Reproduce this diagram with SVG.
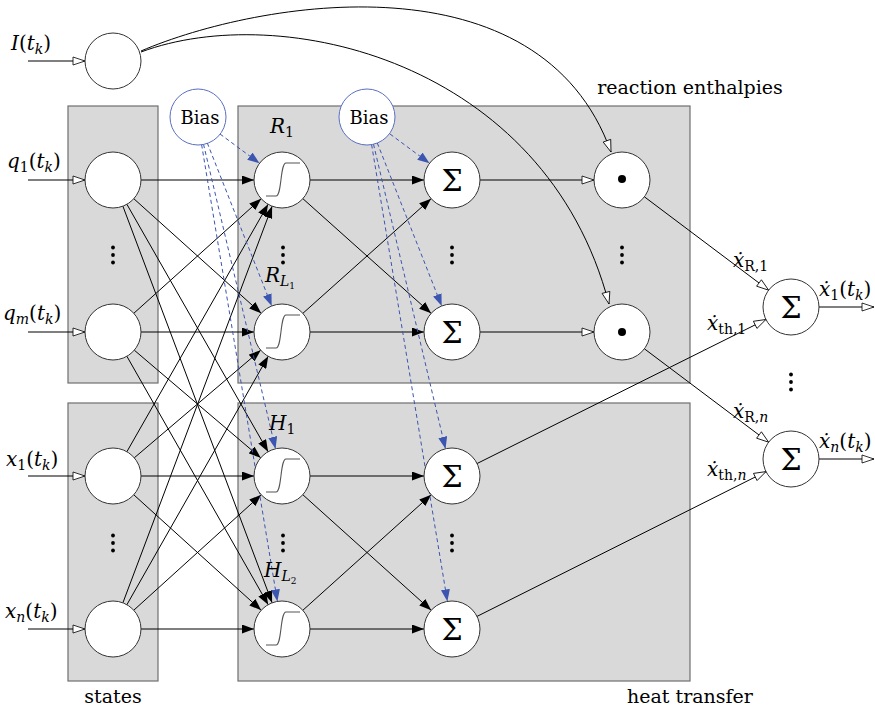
<svg xmlns="http://www.w3.org/2000/svg" width="875" height="711" viewBox="0 0 875 711">
<style>
text{font-family:"DejaVu Serif","Liberation Serif",serif;font-size:19px;fill:#000}
.m{font-size:20px}
.it{font-style:italic}
.sub{font-size:14px}
.ssub{font-size:9px}
.sum{font-size:30px;font-family:"DejaVu Serif",serif}
.bt{font-size:18px}
.box{fill:#d9d9d9;stroke:#6e6e6e;stroke-width:1.2}
.node{fill:#fff;stroke:#333;stroke-width:1}
.bias{fill:#fff;stroke:#5a6fc4;stroke-width:1}
.e{stroke:#000;stroke-width:1;fill:none}
.ef{marker-end:url(#af)}
.eo{marker-end:url(#ao)}
.eb{stroke:#3b55b0;stroke-width:1;fill:none;stroke-dasharray:4 3;marker-end:url(#ab)}
.sig{fill:none;stroke:#555;stroke-width:1.1}
.dots circle{fill:#000}
</style>
<defs>
<marker id="af" viewBox="0 0 12 9" refX="12" refY="4.5" markerWidth="12" markerHeight="9" markerUnits="userSpaceOnUse" orient="auto"><path d="M0,0 L12,4.5 L0,9 z" fill="#000"/></marker>
<marker id="ab" viewBox="0 0 12 9" refX="12" refY="4.5" markerWidth="12" markerHeight="9" markerUnits="userSpaceOnUse" orient="auto"><path d="M0,0 L12,4.5 L0,9 z" fill="#3b55b0"/></marker>
<marker id="ao" viewBox="-1 -1 14 10" refX="12" refY="4" markerWidth="14" markerHeight="10" markerUnits="userSpaceOnUse" orient="auto"><path d="M0,0 L12,4 L0,8 z" fill="#fff" stroke="#000" stroke-width="0.8"/></marker>
<path id="sigmoid" d="M-16,16 H-6 C0,16 -2,-17 4,-17 H18"/>
<g id="vdots"><circle cx="0" cy="-7.5" r="1.9"/><circle cx="0" cy="0" r="1.9"/><circle cx="0" cy="7.5" r="1.9"/></g>
</defs>

<g id="boxes">
<rect class="box" x="68" y="106" width="90" height="277"/>
<rect class="box" x="68" y="403" width="90" height="278"/>
<rect class="box" x="238" y="106" width="452" height="277"/>
<rect class="box" x="238" y="403" width="452" height="278"/>
</g>

<g id="connectors">
<line class="e eo" x1="28" y1="61" x2="85" y2="61"/>
<line class="e eo" x1="28" y1="180" x2="85" y2="180"/>
<line class="e eo" x1="28" y1="332" x2="85" y2="332"/>
<line class="e eo" x1="28" y1="476" x2="85" y2="476"/>
<line class="e eo" x1="28" y1="629" x2="85" y2="629"/>
<line class="e ef" x1="141" y1="180" x2="254" y2="180"/>
<line class="e ef" x1="133.8" y1="198.7" x2="261.2" y2="313.3"/>
<line class="e ef" x1="126.9" y1="204.3" x2="268.1" y2="451.7"/>
<line class="e ef" x1="122.9" y1="206.2" x2="272.1" y2="602.8"/>
<line class="e ef" x1="133.8" y1="313.3" x2="261.2" y2="198.7"/>
<line class="e ef" x1="141" y1="332" x2="254" y2="332"/>
<line class="e ef" x1="134.3" y1="350.2" x2="260.7" y2="457.8"/>
<line class="e ef" x1="126.9" y1="356.3" x2="268.2" y2="604.7"/>
<line class="e ef" x1="126.9" y1="451.7" x2="268.1" y2="204.3"/>
<line class="e ef" x1="134.3" y1="457.8" x2="260.7" y2="350.2"/>
<line class="e ef" x1="141" y1="476" x2="254" y2="476"/>
<line class="e ef" x1="133.8" y1="494.8" x2="261.2" y2="610.2"/>
<line class="e ef" x1="122.9" y1="602.8" x2="272.1" y2="206.2"/>
<line class="e ef" x1="126.9" y1="604.7" x2="268.2" y2="356.3"/>
<line class="e ef" x1="133.8" y1="610.2" x2="261.2" y2="494.8"/>
<line class="e ef" x1="141" y1="629" x2="254" y2="629"/>
<line class="e ef" x1="310" y1="180" x2="424" y2="180"/>
<line class="e ef" x1="302.9" y1="198.7" x2="431.1" y2="313.3"/>
<line class="e ef" x1="302.9" y1="313.3" x2="431.1" y2="198.7"/>
<line class="e ef" x1="310" y1="332" x2="424" y2="332"/>
<line class="e ef" x1="310" y1="476" x2="424" y2="476"/>
<line class="e ef" x1="302.8" y1="494.7" x2="431.2" y2="610.3"/>
<line class="e ef" x1="302.8" y1="610.3" x2="431.2" y2="494.7"/>
<line class="e ef" x1="310" y1="629" x2="424" y2="629"/>
<line class="e eo" x1="480" y1="180" x2="594" y2="180"/>
<line class="e eo" x1="480" y1="332" x2="594" y2="332"/>
<path class="e eo" d="M141,51 C260,0 540,-46 611,152"/>
<path class="e eo" d="M141,52 C280,0 545,60 609,304"/>
<line class="e eo" x1="644.4" y1="196.8" x2="768.6" y2="290.2"/>
<line class="e eo" x1="644.4" y1="348.8" x2="768.6" y2="442.2"/>
<line class="e eo" x1="477.1" y1="463.5" x2="765.9" y2="319.5"/>
<line class="e eo" x1="477" y1="616.4" x2="766" y2="471.6"/>
<line class="e eo" x1="819" y1="307" x2="874" y2="307"/>
<line class="e eo" x1="819" y1="459" x2="874" y2="459"/>
<line class="eb" x1="220" y1="134" x2="259.5" y2="163.3"/>
<line class="eb" x1="207.3" y1="143" x2="271.7" y2="306"/>
<line class="eb" x1="203.5" y1="144.2" x2="275.5" y2="448.8"/>
<line class="eb" x1="201.6" y1="144.6" x2="277.4" y2="601.4"/>
<line class="eb" x1="390" y1="134" x2="429.5" y2="163.3"/>
<line class="eb" x1="377.3" y1="143" x2="441.7" y2="306"/>
<line class="eb" x1="373.5" y1="144.2" x2="445.5" y2="448.8"/>
<line class="eb" x1="371.6" y1="144.6" x2="447.4" y2="601.4"/>
</g>

<g id="n-I"><circle class="node" cx="113" cy="61" r="28"/></g>
<g id="n-q1"><circle class="node" cx="113" cy="180" r="28"/></g>
<g id="n-qm"><circle class="node" cx="113" cy="332" r="28"/></g>
<g id="n-x1"><circle class="node" cx="113" cy="476" r="28"/></g>
<g id="n-xn"><circle class="node" cx="113" cy="629" r="28"/></g>

<g id="n-bias1"><circle class="bias" cx="198" cy="117" r="28"/><text class="bt" x="200" y="124" text-anchor="middle">Bias</text></g>
<g id="n-bias2"><circle class="bias" cx="367" cy="117" r="28"/><text class="bt" x="369" y="124" text-anchor="middle">Bias</text></g>

<g id="n-R1"><circle class="node" cx="282" cy="180" r="28"/><use href="#sigmoid" class="sig" x="282" y="180"/></g>
<g id="n-RL1"><circle class="node" cx="282" cy="332" r="28"/><use href="#sigmoid" class="sig" x="282" y="332"/></g>
<g id="n-H1"><circle class="node" cx="282" cy="476" r="28"/><use href="#sigmoid" class="sig" x="282" y="476"/></g>
<g id="n-HL2"><circle class="node" cx="282" cy="629" r="28"/><use href="#sigmoid" class="sig" x="282" y="629"/></g>

<g id="n-S1"><circle class="node" cx="452" cy="180" r="28"/><text class="sum" x="452" y="191" text-anchor="middle">Σ</text></g>
<g id="n-S2"><circle class="node" cx="452" cy="332" r="28"/><text class="sum" x="452" y="343" text-anchor="middle">Σ</text></g>
<g id="n-S3"><circle class="node" cx="452" cy="476" r="28"/><text class="sum" x="452" y="487" text-anchor="middle">Σ</text></g>
<g id="n-S4"><circle class="node" cx="452" cy="629" r="28"/><text class="sum" x="452" y="640" text-anchor="middle">Σ</text></g>

<g id="n-P1"><circle class="node" cx="622" cy="180" r="28"/><circle cx="622" cy="179" r="4" fill="#000"/></g>
<g id="n-P2"><circle class="node" cx="622" cy="332" r="28"/><circle cx="622" cy="332" r="4" fill="#000"/></g>

<g id="n-O1"><circle class="node" cx="791" cy="307" r="28"/><text class="sum" x="791" y="318" text-anchor="middle">Σ</text></g>
<g id="n-On"><circle class="node" cx="791" cy="459" r="28"/><text class="sum" x="791" y="470" text-anchor="middle">Σ</text></g>

<g id="ellipses" class="dots">
<use href="#vdots" x="113" y="255"/>
<use href="#vdots" x="113" y="543"/>
<use href="#vdots" x="283" y="255"/>
<use href="#vdots" x="283" y="543"/>
<use href="#vdots" x="452" y="255"/>
<use href="#vdots" x="452" y="543"/>
<use href="#vdots" x="622" y="255"/>
<use href="#vdots" x="791" y="382"/>
</g>

<g id="labels">
<text class="m" x="11" y="50"><tspan class="it">I</tspan>(<tspan class="it">t</tspan><tspan class="it sub" dy="4">k</tspan><tspan dy="-4">)</tspan></text>
<text class="m" x="7" y="168"><tspan class="it">q</tspan><tspan class="sub" dy="4">1</tspan><tspan dy="-4">(</tspan><tspan class="it">t</tspan><tspan class="it sub" dy="4">k</tspan><tspan dy="-4">)</tspan></text>
<text class="m" x="3" y="320"><tspan class="it">q</tspan><tspan class="it sub" dy="4">m</tspan><tspan dy="-4">(</tspan><tspan class="it">t</tspan><tspan class="it sub" dy="4">k</tspan><tspan dy="-4">)</tspan></text>
<text class="m" x="6" y="466"><tspan class="it">x</tspan><tspan class="sub" dy="4">1</tspan><tspan dy="-4">(</tspan><tspan class="it">t</tspan><tspan class="it sub" dy="4">k</tspan><tspan dy="-4">)</tspan></text>
<text class="m" x="5" y="618"><tspan class="it">x</tspan><tspan class="it sub" dy="4">n</tspan><tspan dy="-4">(</tspan><tspan class="it">t</tspan><tspan class="it sub" dy="4">k</tspan><tspan dy="-4">)</tspan></text>
<text x="113" y="703" text-anchor="middle">states</text>
<text x="690" y="703" text-anchor="middle">heat transfer</text>
<text x="690" y="94" text-anchor="middle">reaction enthalpies</text>
<text class="m" x="270" y="133"><tspan class="it">R</tspan><tspan class="sub" dy="4">1</tspan></text>
<text class="m" x="265" y="282"><tspan class="it">R</tspan><tspan class="it sub" dy="4">L</tspan><tspan class="ssub" dy="3">1</tspan></text>
<text class="m" x="269" y="430"><tspan class="it">H</tspan><tspan class="sub" dy="4">1</tspan></text>
<text class="m" x="264" y="577"><tspan class="it">H</tspan><tspan class="it sub" dy="4">L</tspan><tspan class="ssub" dy="3">2</tspan></text>
<text class="m" x="733" y="267"><tspan class="it">ẋ</tspan><tspan class="sub" dy="4">R,1</tspan></text>
<text class="m" x="707" y="330"><tspan class="it">ẋ</tspan><tspan class="sub" dy="4">th,1</tspan></text>
<text class="m" x="733" y="418"><tspan class="it">ẋ</tspan><tspan class="sub" dy="4">R,</tspan><tspan class="it sub">n</tspan></text>
<text class="m" x="707" y="476"><tspan class="it">ẋ</tspan><tspan class="sub" dy="4">th,</tspan><tspan class="it sub">n</tspan></text>
<text class="m" x="819" y="296"><tspan class="it">ẋ</tspan><tspan class="sub" dy="4">1</tspan><tspan dy="-4">(</tspan><tspan class="it">t</tspan><tspan class="it sub" dy="4">k</tspan><tspan dy="-4">)</tspan></text>
<text class="m" x="819" y="448"><tspan class="it">ẋ</tspan><tspan class="it sub" dy="4">n</tspan><tspan dy="-4">(</tspan><tspan class="it">t</tspan><tspan class="it sub" dy="4">k</tspan><tspan dy="-4">)</tspan></text>
</g>
</svg>
